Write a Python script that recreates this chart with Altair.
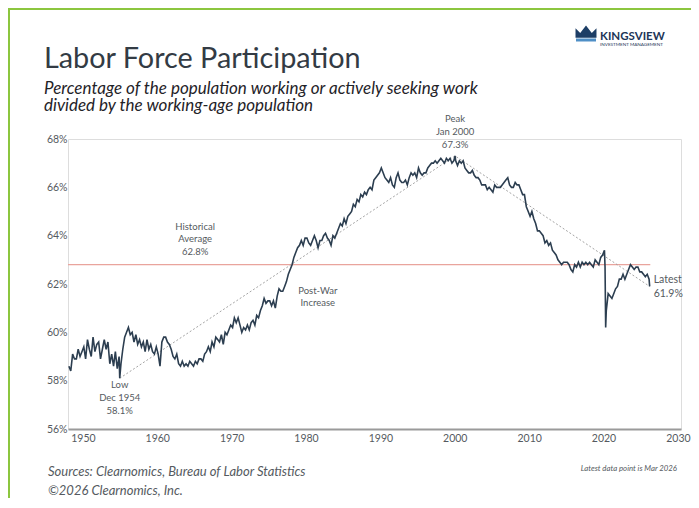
import altair as alt
import pandas as pd

# ---------------- data (quarterly mid-months) ----------------
lfpr_1948_1959 = [
    58.6, 58.4, 59.1, 58.9,  58.9, 59.3, 59.0, 59.2,  59.4, 58.9, 59.7, 59.3,
    59.0, 59.8, 59.2, 59.5,  59.6, 58.9, 59.3, 59.7,  59.3, 59.6, 58.7, 59.1,
    58.6, 59.2, 58.5, 59.0,  58.7, 59.3, 59.8, 60.0,  60.2, 59.9, 60.0, 59.6,
    59.9, 59.5, 59.7, 59.4,  59.6, 59.2, 59.7, 59.3,  59.5, 59.2, 59.1, 59.4,
]
lfpr_1960s = [
    59.1, 58.6, 59.6, 59.8,  59.8, 59.6, 59.5, 59.3,  59.0, 58.9, 59.1, 58.7,
    58.6, 58.8, 58.6, 58.7,  58.6, 58.8, 58.7, 58.6,  58.8, 58.7, 58.9, 58.9,
    58.8, 59.1, 59.2, 59.4,  59.2, 59.6, 59.4, 59.8,  59.7, 59.6, 59.9, 59.5,
    60.0, 59.9, 60.1, 60.3,
]
lfpr_1970s = [
    60.2, 60.6, 60.4, 60.6,  60.3, 60.0, 60.2, 60.1,  60.3, 60.1, 60.4, 60.5,
    60.3, 60.7, 60.6, 60.9,  61.1, 61.4, 61.2, 61.3,  61.3, 61.1, 61.3, 61.0,
    61.5, 61.8, 61.7, 61.7,  61.9, 62.1, 62.4, 62.6,  62.8, 63.1, 63.3, 63.5,
    63.6, 63.8, 63.6, 63.9,
]
lfpr_1980s = [
    63.9, 63.7, 63.6, 63.8,  64.0, 63.8, 63.5, 63.8,  63.8, 64.0, 64.1, 63.9,
    63.8, 63.6, 64.0, 63.9,  64.1, 64.3, 64.5, 64.4,  64.7, 64.5, 64.8, 64.9,
    65.0, 65.3, 65.2, 65.5,  65.4, 65.7, 65.6, 65.8,  65.7, 65.9, 66.0, 65.9,
    66.3, 66.4, 66.5, 66.6,
]
lfpr_1990s = [
    66.8, 66.6, 66.4, 66.3,  66.2, 66.4, 66.1, 66.0,  66.4, 66.6, 66.3, 66.2,
    66.2, 66.3, 66.1, 66.4,  66.6, 66.5, 66.6, 66.4,  66.8, 66.6, 66.5, 66.6,
    66.6, 66.8, 66.9, 67.0,  67.0, 67.1, 67.0, 67.1,  67.2, 67.1, 67.0, 67.2,
    67.1, 67.2, 67.0, 67.1,
]
lfpr_2000s = [
    67.1, 66.9, 67.1, 67.0,  67.1, 66.8, 66.7, 66.6,  66.6, 66.7, 66.5, 66.4,
    66.4, 66.3, 66.1, 66.1,  66.1, 65.9, 66.0, 65.9,  65.8, 66.1, 66.0, 66.0,
    66.0, 66.1, 66.2, 66.3,  66.4, 66.1, 66.0, 66.0,  66.2, 66.1, 66.1, 65.9,
    65.7, 65.7, 65.2, 65.0,
]
lfpr_2010s = [
    64.8, 65.0, 64.7, 64.5,  64.2, 64.2, 64.1, 64.0,  63.7, 63.8, 63.6, 63.7,
    63.4, 63.3, 63.2, 63.0,  62.9, 62.8, 62.9, 62.9,  62.9, 62.8, 62.6, 62.5,
    62.8, 62.7, 62.9, 62.7,  62.9, 62.8, 62.9, 62.8,  62.9, 62.8, 62.7, 63.0,
    62.9, 62.8, 63.1, 63.2,
]
lfpr_2020s = [
    63.4, 60.9, 61.6, 61.5,  61.4, 61.6, 61.8, 61.9,  62.2, 62.2, 62.4, 62.2,
    62.4, 62.6, 62.8, 62.7,  62.6, 62.7, 62.7, 62.5,  62.5, 62.4, 62.3, 62.4,
    62.2,
]
quarter_months = [2, 5, 8, 11]

# monthly observations that matter (low, peak, pandemic drop, latest)
event_dates = ["1954-12-15", "2000-01-15", "2020-03-15", "2020-04-15", "2026-03-15"]
event_values = [58.1, 67.3, 62.7, 60.2, 61.9]

hist_avg = 62.8
avg_start, avg_end = "1948-01-01", "2026-04-15"
trend_dates = ["1954-12-15", "2000-01-15", "2026-03-15"]
trend_values = [58.1, 67.3, 61.9]

x_ticks = [1950, 1960, 1970, 1980, 1990, 2000, 2010, 2020, 2030]
y_ticks = [56, 58, 60, 62, 64, 66, 68]

# ---------------- build the table ----------------
all_q = (lfpr_1948_1959 + lfpr_1960s + lfpr_1970s + lfpr_1980s +
         lfpr_1990s + lfpr_2000s + lfpr_2010s + lfpr_2020s)
dates = []
for i, v in enumerate(all_q):
    yr = 1948 + i // 4
    m = quarter_months[i % 4]
    dates.append(f"{yr}-{m:02d}-15")
df = pd.DataFrame({"date": dates + event_dates, "value": all_q + event_values})
df["date"] = pd.to_datetime(df["date"])
df = df.sort_values("date").reset_index(drop=True)
df["date"] = df["date"].dt.strftime("%Y-%m-%d")

FONT = "Lato"
LINE = "#2c3e50"
GREY = "#555a60"

xscale = alt.Scale(domain=["1948-01-01", "2030-06-01"])
yscale = alt.Scale(domain=[56, 68], nice=False, zero=False)

x_axis = alt.Axis(
    values=[alt.DateTime(year=y, month=1, date=1) for y in x_ticks],
    format="%Y", title=None, grid=False, ticks=False, labelFlush=False,
    domainColor="#9a9a9a", domainWidth=2, labelColor=GREY, labelFontSize=10.5,
    labelFont=FONT, labelPadding=4,
)
y_axis = alt.Axis(
    values=y_ticks, labelExpr="datum.value + '%'", title=None, grid=False,
    ticks=False, domain=False, labelColor=GREY, labelFontSize=10.5,
    labelFont=FONT, labelPadding=1,
)

line = alt.Chart(df).mark_line(color=LINE, strokeWidth=1.6).encode(
    x=alt.X("date:T", scale=xscale, axis=x_axis),
    y=alt.Y("value:Q", scale=yscale, axis=y_axis),
)

avg_df = pd.DataFrame({"start": [avg_start], "end": [avg_end], "v": [hist_avg]})
avg_rule = alt.Chart(avg_df).mark_rule(color="#e9a49d", strokeWidth=1.2).encode(
    x=alt.X("start:T", scale=xscale), x2="end:T", y=alt.Y("v:Q", scale=yscale)
)

trend_df = pd.DataFrame({"date": trend_dates, "value": trend_values})
trend = alt.Chart(trend_df).mark_line(
    color="#9a9a9a", strokeDash=[2, 2], strokeWidth=0.9
).encode(x=alt.X("date:T", scale=xscale), y=alt.Y("value:Q", scale=yscale))


def ann(date, value, text, align="center", dx=0, dy=0, size=9.5, lh=12.8):
    d = pd.DataFrame({"date": [date], "value": [value]})
    return alt.Chart(d).mark_text(
        text=text, align=align, baseline="top", dx=dx, dy=dy, fontSize=size,
        font=FONT, color=GREY, lineHeight=lh,
    ).encode(x=alt.X("date:T", scale=xscale), y=alt.Y("value:Q", scale=yscale))


a_low = ann("1954-12-15", 58.1, ["Low", "Dec 1954", "58.1%"], dy=2)
a_peak = ann("2000-01-15", 67.3, ["Peak", "Jan 2000", "67.3%"], dy=-42)
a_avg = ann("1965-02-01", hist_avg, ["Historical", "Average", "62.8%"], dy=-43)
a_post = ann("1981-08-01", 61.93, ["Post-War", "Increase"])
a_latest = ann("2026-03-15", 61.9, ["Latest", "61.9%"], align="left",
               dx=4, dy=-11, size=10.5, lh=14)

one = alt.Data(values=[{}])


def txt(text, x, y, size, align="left", baseline="alphabetic", color=GREY, style="normal",
        weight="normal", font=FONT, lh=None):
    kw = dict(text=text, align=align, baseline=baseline, fontSize=size, color=color,
              fontStyle=style, fontWeight=weight, font=font)
    if lh is not None:
        kw["lineHeight"] = lh
    return alt.Chart(one).mark_text(**kw).encode(x=alt.value(x), y=alt.value(y))


# plot origin is at page (68, 139)
title = txt("Labor Force Participation", -24, -71, 28.8, color="#333b44")
subtitle = txt(["Percentage of the population working or actively seeking work",
                "divided by the working-age population"], -24, -45, 17,
               color="#1f2328", style="italic", lh=17)
src = txt("Sources: Clearnomics, Bureau of Labor Statistics", -20, 337, 13, style="italic")
copy = txt("\u00a92026 Clearnomics, Inc.", -20, 356, 13, style="italic")
latest_note = txt("Latest data point is Mar 2026", 609, 332, 7.8, align="right", style="italic")
logo1 = txt("KINGSVIEW", 532, -99.5, 11.5, color="#1d3557", weight="bold")
logo2 = txt("INVESTMENT MANAGEMENT", 532, -93, 4.6, color="#1d3557")

crown = alt.Chart(one).mark_point(
    shape="M-1,0.35 L-1,-0.55 L-0.55,-0.1 L0,-0.8 L0.55,-0.1 L1,-0.55 L1,0.35 Z",
    filled=True, color="#1d3e66", opacity=1, size=440,
).encode(x=alt.value(518), y=alt.value(-105))
crown_band = alt.Chart(one).mark_rule(color="#4f8fc6", strokeWidth=3).encode(
    x=alt.value(508), x2=alt.value(528), y=alt.value(-99)
)

green_top = alt.Chart(one).mark_rule(color="#8cc63f", strokeWidth=2).encode(
    x=alt.value(-60), x2=alt.value(640), y=alt.value(-130)
)
green_left = alt.Chart(one).mark_rule(color="#8cc63f", strokeWidth=2).encode(
    x=alt.value(-59), y=alt.value(-131), y2=alt.value(370)
)

chart = alt.layer(
    green_top, green_left, avg_rule, trend, line,
    a_low, a_peak, a_avg, a_post, a_latest,
    title, subtitle, src, copy, latest_note, logo1, logo2, crown, crown_band,
).properties(
    width=613, height=290,
    autosize=alt.AutoSizeParams(type="none"),
    padding={"left": 60, "top": 131, "right": 10, "bottom": 69},
).configure_view(stroke=None).configure(background="white")

chart.save("out.html", embed_options={"renderer": "svg", "actions": False})
